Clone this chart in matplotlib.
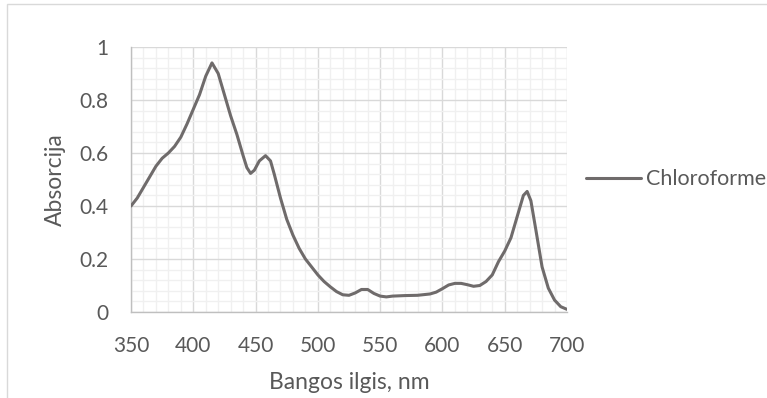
import matplotlib.pyplot as plt
from matplotlib.patches import Rectangle
from matplotlib.ticker import MultipleLocator, FuncFormatter

plt.rcParams['font.family'] = ['Lato', 'DejaVu Sans']

# Absorption spectrum
wavelength = [350, 355, 360, 365, 370, 375, 380, 385, 390, 395,
              400, 405, 410, 415, 420, 425, 430, 435, 440, 443,
              446, 449, 453, 458, 462, 465, 470, 475, 480, 485,
              490, 495, 500, 505, 510, 515, 520, 525, 530, 535,
              540, 545, 550, 555, 560, 570, 580, 590, 595, 600,
              605, 610, 615, 620, 625, 630, 635, 640, 645, 650,
              655, 660, 665, 668, 671, 675, 680, 685, 690, 695, 700]
absorbance = [0.40, 0.43, 0.47, 0.51, 0.55, 0.58, 0.60, 0.625, 0.66, 0.71,
              0.765, 0.82, 0.89, 0.94, 0.90, 0.82, 0.74, 0.67, 0.59, 0.545,
              0.523, 0.535, 0.57, 0.59, 0.57, 0.52, 0.43, 0.35, 0.29, 0.24,
              0.20, 0.17, 0.14, 0.115, 0.095, 0.077, 0.065, 0.063, 0.072, 0.085,
              0.085, 0.07, 0.06, 0.057, 0.06, 0.062, 0.063, 0.068, 0.075, 0.088,
              0.102, 0.108, 0.108, 0.103, 0.097, 0.10, 0.115, 0.14, 0.19, 0.23,
              0.28, 0.36, 0.44, 0.455, 0.42, 0.31, 0.17, 0.09, 0.045, 0.02, 0.01]

series_name = "Chloroforme"
line_color = "#6f6b6b"
text_color = "#595959"

fig = plt.figure(figsize=(7.67, 3.98), dpi=100)
ax = fig.add_axes([131 / 767, 86 / 398, 436 / 767, 265 / 398])

ax.plot(wavelength, absorbance, color=line_color, linewidth=2.2,
        solid_capstyle='round', solid_joinstyle='round',
        label=series_name, zorder=3)

ax.set_xlim(350, 700)
ax.set_ylim(0, 1)
ax.xaxis.set_major_locator(MultipleLocator(50))
ax.xaxis.set_minor_locator(MultipleLocator(10))
ax.yaxis.set_major_locator(MultipleLocator(0.2))
ax.yaxis.set_minor_locator(MultipleLocator(0.04))
ax.yaxis.set_major_formatter(FuncFormatter(lambda v, p: f"{v:g}"))

ax.grid(which='major', color='#d9d9d9', linewidth=1.0)
ax.grid(which='minor', color='#f0f0f0', linewidth=1.0)
ax.set_axisbelow(True)
for side in ['top', 'right']:
    ax.spines[side].set_visible(False)
for side in ['left', 'bottom']:
    ax.spines[side].set_color('#bfbfbf')
    ax.spines[side].set_linewidth(1.0)

ax.tick_params(which='both', length=0, labelsize=15, colors=text_color)
ax.tick_params(axis='x', pad=17)
ax.tick_params(axis='y', pad=16)

ax.set_xlabel("Bangos ilgis, nm", fontsize=16.5, color=text_color, labelpad=12)
ax.set_ylabel("Absorcija", fontsize=16.5, color=text_color, labelpad=10)

ax.legend(loc='center left', bbox_to_anchor=(0.998, 0.5), frameon=False,
          fontsize=15.5, handlelength=2.6, handletextpad=0.2,
          labelcolor=text_color)

# chart area outline
fig.patches.append(Rectangle((7 / 767, -0.1), 1.2, 1 - 4 / 398 + 0.1,
                             transform=fig.transFigure, fill=False,
                             edgecolor='#d9d9d9', linewidth=1.0))

fig.savefig("out.png", dpi=100)
